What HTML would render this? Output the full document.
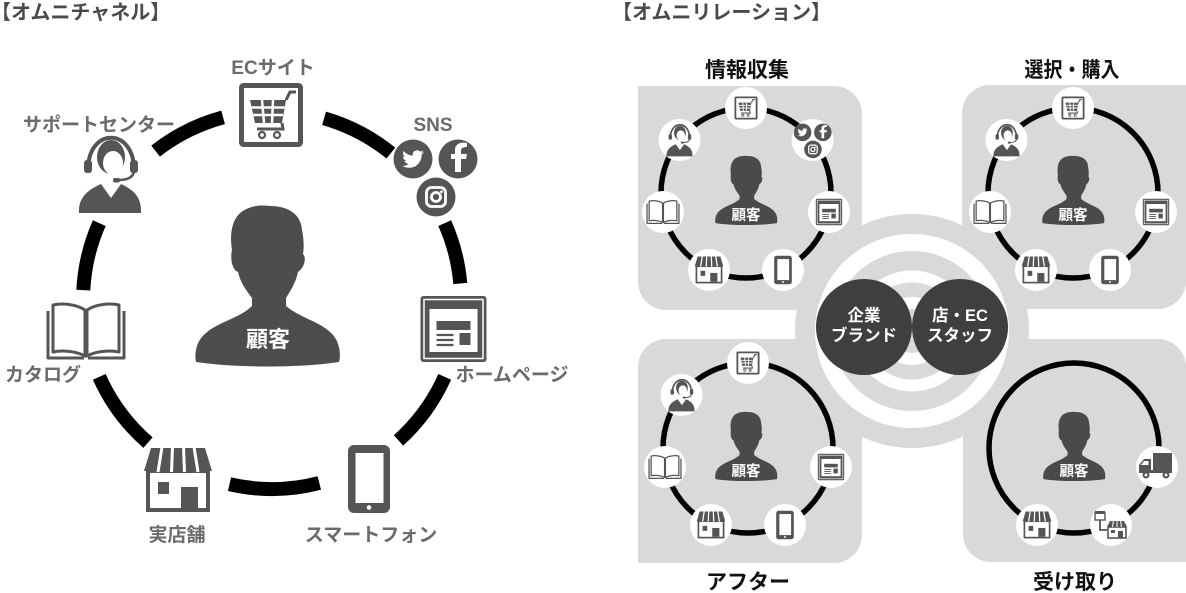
<!DOCTYPE html>
<html><head><meta charset="utf-8"><style>
html,body{margin:0;padding:0;background:#fff;}
svg{display:block;}
text{font-family:"Liberation Sans","Noto Sans CJK JP",sans-serif;}
</style></head><body>
<svg width="1186" height="593" viewBox="0 0 1186 593" xmlns="http://www.w3.org/2000/svg">
<defs>
<g id="cart">
<rect x="-29.5" y="-29.5" width="59" height="59" rx="2" fill="#fff" stroke="#555" stroke-width="5"/>
<path d="M-21,-15 L15,-15 L11,8 L-16,8 Z" fill="#555"/>
<path d="M-9,-15 L-7,8 M2,-15 L1,8 M-19.5,-7.5 L13.5,-7.5 M-18,0 L12,0" stroke="#fff" stroke-width="2.5"/>
<path d="M15,-15 L19,-23 L25,-23 M11,8 L12,14 L-14,14" fill="none" stroke="#555" stroke-width="3"/>
<circle cx="-9" cy="20" r="3" fill="none" stroke="#555" stroke-width="2.2"/>
<circle cx="6" cy="20" r="3" fill="none" stroke="#555" stroke-width="2.2"/>
</g>
<g id="hp">
<rect x="-33" y="-33" width="66" height="66" rx="3" fill="#555"/>
<rect x="-29.5" y="-29.5" width="59" height="59" fill="none" stroke="#fff" stroke-width="1.5"/>
<rect x="-24" y="-20" width="48" height="43" fill="#fff"/>
<rect x="-17" y="-8" width="34" height="9" fill="#555"/>
<path d="M-17,6 H0 M-17,11 H0 M-17,16 H0" stroke="#555" stroke-width="2.2"/>
<rect x="6" y="4" width="11" height="12" fill="#555"/>
</g>
<g id="phone">
<rect x="-21" y="-34" width="42" height="68" rx="6" fill="#555"/>
<rect x="-13.5" y="-26" width="28" height="50" fill="#fff"/>
<circle cx="0" cy="28.5" r="2.3" fill="#fff"/>
</g>
<g id="store">
<rect x="-30" y="-9" width="60" height="39" fill="#fff" stroke="#555" stroke-width="4"/>
<path d="M-27,-32 H27 L34,-9 H-34 Z" fill="#555"/>
<path d="M-16,-33 L-20,-8 M-5.5,-33 L-6.5,-8 M5.5,-33 L6.5,-8 M16,-33 L20,-8" stroke="#fff" stroke-width="3"/>
<rect x="-20" y="2" width="11" height="12" fill="#555"/>
<rect x="3" y="7" width="17" height="21" fill="#555"/>
</g>
<g id="book" fill="#fff" stroke="#555" stroke-width="3" stroke-linejoin="round">
<path d="M-38,-20 V27 H-2 M2,27 H38 V-20" fill="none"/>
<path d="M-1,-21 C-10,-27 -24,-28 -33,-26 V21 C-24,19 -10,20 -1,25 Z"/>
<path d="M1,-21 C10,-27 24,-28 33,-26 V21 C24,19 10,20 1,25 Z"/>
</g>
<g id="headset">
<path d="M-22,-4 C-22,-47 24,-47 24,-4" fill="none" stroke="#555" stroke-width="4"/>
<ellipse cx="1" cy="-17" rx="14" ry="17" fill="#555"/>
<ellipse cx="3" cy="-11" rx="10" ry="12" fill="#fff"/>
<rect x="-26" y="-14" width="8" height="13" rx="3" fill="#555"/>
<rect x="20" y="-14" width="8" height="13" rx="3" fill="#555"/>
<path d="M24,-4 C24,4 16,6 8,6" fill="none" stroke="#555" stroke-width="2.5"/>
<rect x="3" y="4" width="7" height="4.5" rx="2" fill="#555"/>
<path d="M-31,39 C-32,22 -20,15 -9,10 L1,24 L11,10 C22,15 32,22 31,39 Z" fill="#555"/>
</g>
<g id="sns">
<circle cx="-22" cy="-17" r="19.5" fill="#555"/>
<circle cx="23" cy="-17" r="19.5" fill="#555"/>
<circle cx="1" cy="21" r="19.5" fill="#555"/>
<path transform="translate(-32.8,-27.8) scale(0.9)" fill="#fff" d="M23.954 4.569c-.885.389-1.83.654-2.825.775 1.014-.611 1.794-1.574 2.163-2.723-.951.555-2.005.959-3.127 1.184-.896-.959-2.173-1.559-3.591-1.559-2.717 0-4.92 2.203-4.92 4.917 0 .39.045.765.127 1.124C7.691 8.094 4.066 6.13 1.64 3.161c-.427.722-.666 1.561-.666 2.475 0 1.710.87 3.213 2.188 4.096-.807-.026-1.566-.248-2.228-.616v.061c0 2.385 1.693 4.374 3.946 4.827-.413.111-.849.171-1.296.171-.314 0-.615-.03-.916-.086.631 1.953 2.445 3.377 4.604 3.417-1.68 1.319-3.809 2.105-6.102 2.105-.39 0-.779-.023-1.17-.067 2.189 1.394 4.768 2.209 7.557 2.209 9.054 0 13.999-7.496 13.999-13.986 0-.209 0-.42-.015-.63.961-.689 1.8-1.56 2.46-2.548z"/>
<path d="M26,-4 V-17 H31 L32,-22 H26 V-25 C26,-28 28,-29 32,-29 V-33 C27,-34 20,-33 20,-26 V-22 H16 V-17 H20 V-4 Z" fill="#fff"/>
<rect x="-8.5" y="11.5" width="19" height="19" rx="5" fill="none" stroke="#fff" stroke-width="2.8"/>
<circle cx="1" cy="21" r="4.5" fill="none" stroke="#fff" stroke-width="2.8"/>
<circle cx="6.5" cy="15.8" r="1.4" fill="#fff"/>
</g>
<path id="person" d="M-15,13 C-21,5 -27,-3 -29,-13 C-35,-15 -37,-27 -35,-35 C-37,-47 -36,-59 -31,-67 C-25,-77 -11,-81 3,-79 C21,-79 34,-71 35,-55 C37,-45 37,-37 36,-31 C40,-27 37,-17 31,-13 C29,-3 24,5 19,13 L19,21 C33,33 55,37 66,50 C73,58 74,70 72,77 C33,83 -31,83 -71,77 C-73,67 -70,55 -61,48 C-49,37 -27,33 -15,21 Z"/>
</defs>

<!-- Titles -->
<text x="-9" y="19" font-size="20" font-weight="bold" fill="#4a4a4a">【オムニチャネル】</text>
<text x="612" y="19" font-size="20" font-weight="bold" fill="#4a4a4a">【オムニリレーション】</text>

<!-- LEFT DIAGRAM -->
<g fill="none" stroke="#000" stroke-width="14">
<path d="M155.6,151.1 A189,189 0 0 1 223.1,117.4"/>
<path d="M324.1,118.3 A189,189 0 0 1 390.9,153.1"/>
<path d="M444.7,223.1 A189,189 0 0 1 460.3,283.5"/>
<path d="M444.7,376.9 A189,189 0 0 1 398.5,440.4"/>
<path d="M319.3,483.0 A189,189 0 0 1 229.5,484.2"/>
<path d="M148.0,442.6 A189,189 0 0 1 99.3,376.9"/>
<path d="M83.3,290.1 A189,189 0 0 1 99.3,223.1"/>
</g>
<use href="#cart" transform="translate(271,115)"/>
<use href="#sns" transform="translate(435,176)"/>
<use href="#hp" transform="translate(453.5,329)"/>
<use href="#phone" transform="translate(369,479)"/>
<use href="#store" transform="translate(178,480)"/>
<use href="#book" transform="translate(86,331)"/>
<use href="#headset" transform="translate(110,174)"/>
<use href="#person" transform="translate(267,285)" fill="#4d4d4d"/>
<text x="268" y="347" font-size="22" font-weight="bold" fill="#fff" text-anchor="middle">顧客</text>

<g font-size="19" font-weight="bold" fill="#6b6b6b" text-anchor="middle">
<text x="273" y="74">ECサイト</text>
<text x="99" y="131">サポートセンター</text>
<text x="433" y="131">SNS</text>
<text x="43" y="381">カタログ</text>
<text x="512" y="381">ホームページ</text>
<text x="177" y="541">実店舗</text>
<text x="371" y="541">スマートフォン</text>
</g>

<!-- RIGHT DIAGRAM -->
<g fill="#d9d9d9">
<path d="M638,86 H834 A28,28 0 0 1 862,114 V282 A28,28 0 0 1 834,310 H666 A28,28 0 0 1 638,282 Z"/>
<path d="M990,85 H1186 V281 A28,28 0 0 1 1158,309 H990 A28,28 0 0 1 962,281 V113 A28,28 0 0 1 990,85 Z"/>
<path d="M666,339 H834 A28,28 0 0 1 862,367 V535 A28,28 0 0 1 834,563 H638 V367 A28,28 0 0 1 666,339 Z"/>
<path d="M991,339 H1158 A28,28 0 0 1 1186,367 V562 H991 A28,28 0 0 1 963,534 V367 A28,28 0 0 1 991,339 Z"/>
<circle cx="912" cy="331" r="117"/>
</g>
<g fill="none" stroke="#fff">
<circle cx="912" cy="331" r="88.5" stroke-width="17"/>
<circle cx="912" cy="331" r="54.5" stroke-width="12"/>
<circle cx="912" cy="331" r="28" stroke-width="12"/>
</g>
<circle cx="864" cy="327" r="48" fill="#3f3f3f"/>
<circle cx="960" cy="327" r="48" fill="#3f3f3f"/>
<g font-size="16.5" font-weight="bold" fill="#fff" text-anchor="middle">
<text x="864" y="321">企業</text>
<text x="864" y="341">ブランド</text>
<text x="960" y="321">店・EC</text>
<text x="960" y="341">スタッフ</text>
</g>

<!-- small rings -->
<g fill="none" stroke="#000" stroke-width="5.5">
<circle cx="746" cy="193" r="85"/>
<circle cx="1073" cy="193" r="85"/>
<circle cx="748" cy="448" r="85"/>
<circle cx="1074" cy="448" r="85"/>
</g>
<g fill="#fff">
<circle cx="746" cy="108" r="21"/><circle cx="812.5" cy="140" r="21"/><circle cx="829" cy="212" r="21"/><circle cx="783" cy="270" r="21"/><circle cx="709" cy="270" r="21"/><circle cx="663" cy="212" r="21"/><circle cx="679.5" cy="140" r="21"/>
<circle cx="1073" cy="108" r="21"/><circle cx="1156" cy="212" r="21"/><circle cx="1110" cy="270" r="21"/><circle cx="1036" cy="270" r="21"/><circle cx="990" cy="212" r="21"/><circle cx="1006.5" cy="140" r="21"/>
<circle cx="748" cy="363" r="21"/><circle cx="831" cy="467" r="21"/><circle cx="785" cy="525" r="21"/><circle cx="711" cy="525" r="21"/><circle cx="665" cy="467" r="21"/><circle cx="681.5" cy="395" r="21"/>
<circle cx="1157" cy="467" r="21"/><circle cx="1111" cy="525" r="21"/><circle cx="1037" cy="525" r="21"/>
</g>

<!-- TL icons -->
<use href="#cart" transform="translate(746,108) scale(0.36)"/>
<use href="#sns" transform="translate(812.5,140) scale(0.45)"/>
<use href="#hp" transform="translate(829,212) scale(0.4)"/>
<use href="#phone" transform="translate(783,270) scale(0.42)"/>
<use href="#store" transform="translate(709,270) scale(0.42)"/>
<use href="#book" transform="translate(663,212) scale(0.42)"/>
<use href="#headset" transform="translate(679.5,140) scale(0.42)"/>
<!-- TR icons -->
<use href="#cart" transform="translate(1073,108) scale(0.36)"/>
<use href="#hp" transform="translate(1156,212) scale(0.4)"/>
<use href="#phone" transform="translate(1110,270) scale(0.42)"/>
<use href="#store" transform="translate(1036,270) scale(0.42)"/>
<use href="#book" transform="translate(990,212) scale(0.42)"/>
<use href="#headset" transform="translate(1006.5,140) scale(0.42)"/>
<!-- BL icons -->
<use href="#cart" transform="translate(748,363) scale(0.36)"/>
<use href="#hp" transform="translate(831,467) scale(0.4)"/>
<use href="#phone" transform="translate(785,525) scale(0.42)"/>
<use href="#store" transform="translate(711,525) scale(0.42)"/>
<use href="#book" transform="translate(665,467) scale(0.42)"/>
<use href="#headset" transform="translate(681.5,395) scale(0.42)"/>
<!-- BR icons -->
<use href="#store" transform="translate(1037,525) scale(0.42)"/>
<g transform="translate(1157,467)">
<rect x="-4" y="-14" width="19" height="18" fill="#555"/>
<path d="M-6,-8 H-13 L-18,-2 V5 H-6 Z" fill="#555"/>
<path d="M-13,-6 H-8.5 V-2 H-16 Z" fill="#fff"/>
<rect x="-18" y="3" width="33" height="3" fill="#555"/>
<circle cx="-11" cy="8" r="3.5" fill="#555"/><circle cx="-11" cy="8" r="1.4" fill="#fff"/>
<circle cx="9" cy="8" r="3.5" fill="#555"/><circle cx="9" cy="8" r="1.4" fill="#fff"/>
</g>
<g transform="translate(1111,525)">
<rect x="-3" y="2" width="18" height="11" fill="#fff" stroke="#555" stroke-width="1.6"/>
<path d="M-1,-4 H13 L16,2 H-4 Z" fill="#555"/>
<path d="M2.5,-4.5 L1.5,2 M6,-4.5 V2 M9.5,-4.5 L10.5,2" stroke="#fff" stroke-width="1"/>
<rect x="0" y="5" width="4" height="3" fill="#555"/>
<rect x="7" y="6" width="5" height="7" fill="#555"/>
<rect x="-16" y="-12" width="10" height="7" fill="#fff" stroke="#555" stroke-width="1.4"/>
<path d="M-16,-14 H-6 V-11 H-16 Z" fill="#555"/>
<path d="M-11,-5 V5 H-4" fill="none" stroke="#555" stroke-width="1.8"/>
</g>

<!-- small people -->
<g fill="#4a4a4a">
<use href="#person" transform="translate(746,190) scale(0.43)"/>
<use href="#person" transform="translate(1073,190) scale(0.43)"/>
<use href="#person" transform="translate(746,446) scale(0.43)"/>
<use href="#person" transform="translate(1074,446) scale(0.43)"/>
</g>
<g font-size="14.5" font-weight="bold" fill="#fff" text-anchor="middle">
<text x="746" y="220">顧客</text>
<text x="1073" y="220">顧客</text>
<text x="746" y="476">顧客</text>
<text x="1074" y="476">顧客</text>
</g>

<g font-size="21" font-weight="bold" fill="#111" text-anchor="middle">
<text x="747" y="77">情報収集</text>
<text x="1072" y="77" textLength="95" lengthAdjust="spacingAndGlyphs">選択・購入</text>
<text x="748" y="589">アフター</text>
<text x="1075" y="589">受け取り</text>
</g>
</svg>
</body></html>
